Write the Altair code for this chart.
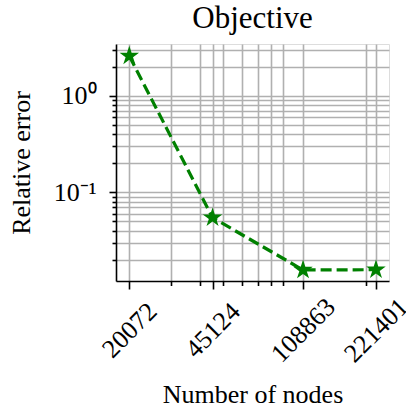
import altair as alt
import pandas as pd

# Data
nodes = [20072, 45124, 108863, 221401]
rel_error = [2.58, 0.0546, 0.0157, 0.0158]

# Tick / grid values
x_major = [20072, 45124, 108863, 221401]
x_minor = [30000, 40000, 50000, 60000, 70000, 80000, 90000, 200000]
y_major = [0.1, 1.0]
y_minor = [0.02, 0.03, 0.04, 0.05, 0.06, 0.07, 0.08, 0.09,
           0.2, 0.3, 0.4, 0.5, 0.6, 0.7, 0.8, 0.9, 2.0, 3.0]
title_text = ["Objective"]

df = pd.DataFrame({"nodes": nodes, "err": rel_error})
tdf = pd.DataFrame({"t": title_text})

FONT = "Liberation Serif"
GREEN = "#008000"
GRID = "#b0b0b0"

STAR = ("M0,-1 L0.2245,-0.309 L0.951,-0.309 L0.363,0.118 L0.588,0.809 "
        "L0,0.382 L-0.588,0.809 L-0.363,0.118 L-0.951,-0.309 L-0.2245,-0.309 Z")

xmaj_list = "[" + ",".join(str(v) for v in x_major) + "]"
ymaj_list = "[" + ",".join(str(v) for v in y_major) + "]"

x_axis = alt.Axis(
    values=x_major + x_minor,
    grid=True, gridColor=GRID, gridWidth=1.6,
    domain=True, domainColor="black", domainWidth=1.6,
    ticks=True, tickColor="black", tickWidth=1.6,
    tickSize={"condition": {"test": f"indexof({xmaj_list}, datum.value) >= 0", "value": 8}, "value": 4.5},
    labelExpr=f"indexof({xmaj_list}, datum.value) >= 0 ? format(datum.value, 'd') : ''",
    labelAngle=315, labelAlign="center", labelBaseline="middle",
    labelPadding=41, labelFont=FONT, labelFontSize=26, labelColor="black",
    labelOverlap=False, labelFlush=False, labelBound=False,
    title="Number of nodes", titleFont=FONT, titleFontSize=26, titleFontWeight="normal",
    titleColor="black", titleBaseline="alphabetic", titleAlign="center",
    titleAnchor="middle", titleY=121,
)

y_axis = alt.Axis(
    values=y_major + y_minor,
    grid=True, gridColor=GRID, gridWidth=1.6,
    domain=True, domainColor="black", domainWidth=1.6,
    ticks=True, tickColor="black", tickWidth=1.6,
    tickSize={"condition": {"test": f"indexof({ymaj_list}, datum.value) >= 0", "value": 7}, "value": 4},
    labelExpr="datum.value == 1 ? '10⁰' : (datum.value == 0.1 ? '10⁻¹' : '')",
    labelPadding=13, labelFont=FONT, labelFontSize=26, labelColor="black",
    labelOverlap=False, labelFlush=False, labelBound=False,
    title="Relative error", titleFont=FONT, titleFontSize=26, titleFontWeight="normal",
    titleColor="black", titleAngle=270, titleAlign="center", titleBaseline="middle",
    titleX=-95, titleY=118.5,
)

x_enc = alt.X("nodes:Q", scale=alt.Scale(type="log", domain=[17634, 251300], nice=False), axis=x_axis)
y_enc = alt.Y("err:Q", scale=alt.Scale(type="log", domain=[0.01207, 3.43], nice=False), axis=y_axis)

line = alt.Chart(df).mark_line(
    color=GREEN, strokeWidth=3.2, strokeDash=[11, 5]
).encode(x=x_enc, y=y_enc)

pts = alt.Chart(df).mark_point(
    shape=STAR, filled=True, color=GREEN, size=420, opacity=1
).encode(x="nodes:Q", y="err:Q")

title = alt.Chart(tdf).mark_text(
    font=FONT, fontSize=31, color="black", align="center", baseline="alphabetic"
).encode(text="t:N", x=alt.value(136.5), y=alt.value(-16))

chart = alt.layer(line, pts, title).properties(
    width=273, height=237,
    autosize=alt.AutoSizeParams(type="none"),
    padding={"left": 116, "top": 44, "right": 17, "bottom": 126},
).configure_view(stroke="black", strokeWidth=1.6).configure(background="white")

chart.save("out.html", embed_options={"renderer": "svg", "actions": False})
